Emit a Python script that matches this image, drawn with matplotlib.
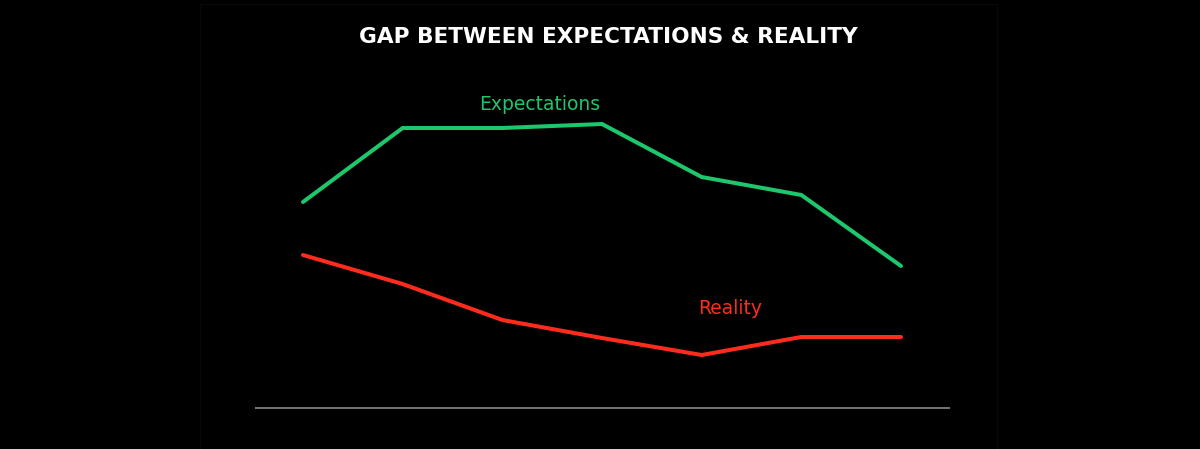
import matplotlib
matplotlib.use('Agg')
import matplotlib.pyplot as plt
import matplotlib.patches as mpatches

# Data (arbitrary units, baseline = 0)
periods = [0, 1, 2, 3, 4, 5, 6]
expectations = [20.6, 28.0, 28.0, 28.4, 23.1, 21.3, 14.2]
reality = [15.3, 12.4, 8.8, 7.0, 5.3, 7.1, 7.1]

green = '#1cc76d'
red = '#ff2b1c'

fig = plt.figure(figsize=(12, 4.49), dpi=100, facecolor='black')
ax = fig.add_axes([0, 0, 1, 1])
ax.set_facecolor('black')

# faint slide frame
fig.patches.append(mpatches.Rectangle((200 / 1200, -0.01), 797 / 1200, 1.0, transform=fig.transFigure,
                                      fill=False, edgecolor='#080808', linewidth=1.0))

ax.plot(periods, expectations, color=green, linewidth=2.9, solid_capstyle='round', solid_joinstyle='miter')
ax.plot(periods, reality, color=red, linewidth=2.9, solid_capstyle='round', solid_joinstyle='miter')
ax.hlines(0, -0.48, 6.49, color='#7f7f7f', linewidth=1.3)

ax.text(2.37, 30.4, 'Expectations', color=green, fontsize=13.5, ha='center', va='center',
        family='DejaVu Sans', fontweight='medium')
ax.text(4.29, 9.9, 'Reality', color=red, fontsize=13.5, ha='center', va='center',
        family='DejaVu Sans', fontweight='medium')

fig.text(0.507, 0.918, 'GAP BETWEEN EXPECTATIONS & REALITY', color='white', fontsize=15.6,
         fontweight='bold', ha='center', va='center', family='DejaVu Sans')

ax.set_xlim(-3.04, 9.0)
ax.set_ylim(-4.1, 40.8)
ax.axis('off')

fig.savefig('out.png', dpi=100, facecolor='black')
